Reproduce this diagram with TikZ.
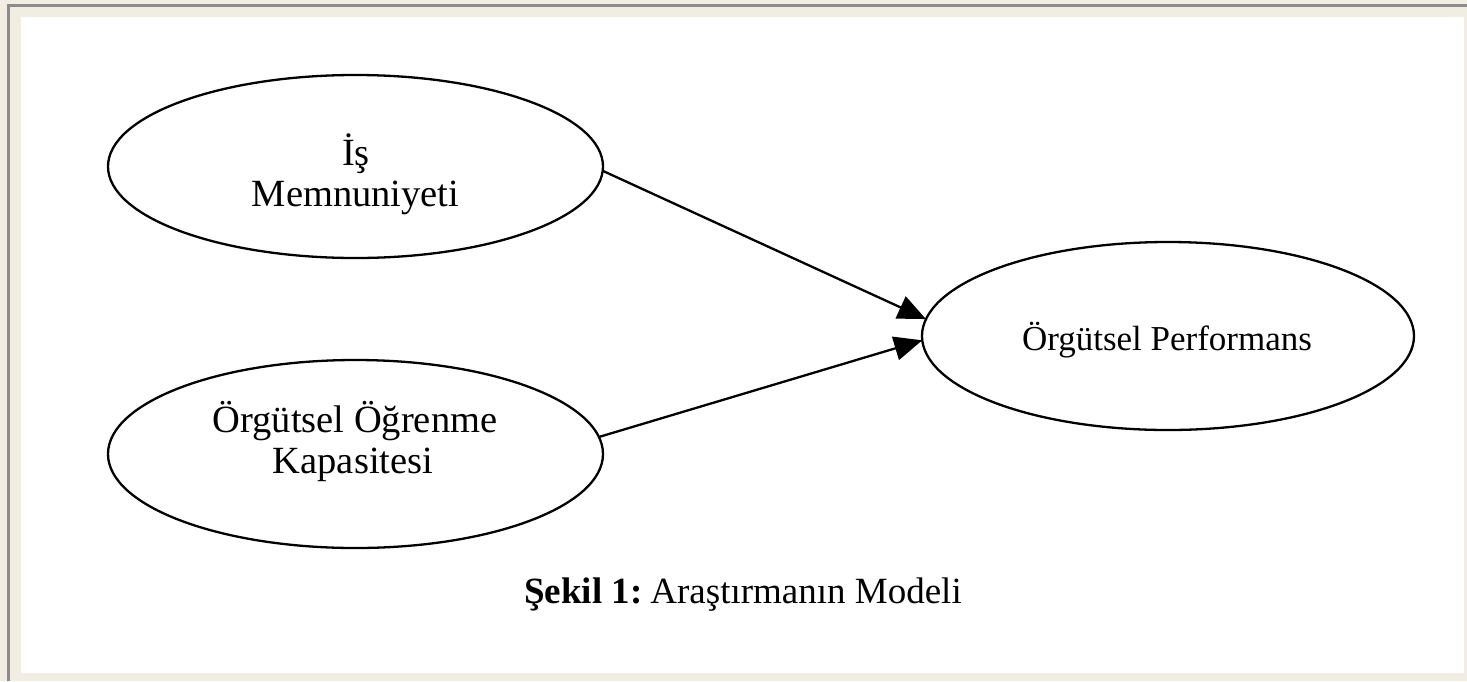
\documentclass[tikz,border=0pt]{standalone}
\usepackage{fontspec}
\setmainfont{Liberation Serif}
\usetikzlibrary{shapes.geometric,arrows.meta}
\definecolor{bgbeige}{HTML}{F1EDE3}
\definecolor{framegray}{HTML}{8A8B8D}
\begin{document}
\begin{tikzpicture}[x=1pt,y=-1pt,
  oval/.style={draw=black, line width=2.3pt, ellipse, inner sep=0pt, outer sep=0pt},
  lbl/.style={anchor=base, inner sep=0pt, font=\fontsize{38.5}{44}\selectfont},
  lblsmall/.style={anchor=base, inner sep=0pt, font=\fontsize{35}{41}\selectfont},
  captext/.style={anchor=base, inner sep=0pt, font=\fontsize{37}{42}\selectfont},
  link/.style={draw=black, line width=2.3pt, -{Triangle[length=28pt,width=24pt]}}]
\useasboundingbox (0,0) rectangle (1467,681);
\fill[bgbeige] (0,0) rectangle (1467,681);
\fill[framegray] (7,4) rectangle (1467,7);
\fill[framegray] (7,4) rectangle (10,681);
\fill[white] (21,17) rectangle (1464,673);
% ellipses
\node[oval, minimum width=495pt, minimum height=183pt] (e1) at (355.5,166.5) {};
\node[oval, minimum width=495pt, minimum height=188pt] (e2) at (355.5,454) {};
\node[oval, minimum width=492pt, minimum height=188pt] (e3) at (1168,336) {};
% labels
\node[lbl] (t1a) at (356,165) {İş};
\node[lbl] (t1b) at (355.5,206) {Memnuniyeti};
\node[lbl] (t2a) at (355,432) {Örgütsel Öğrenme};
\node[lbl] (t2b) at (353,473) {Kapasitesi};
\node[lblsmall] (t3) at (1167,350) {Örgütsel Performans};
\node[captext] (cap) at (743,603) {\textbf{Şekil 1:}\hspace{8pt}Araştırmanın Modeli};
% connectors
\draw[link] (e1.-1) -- (e3.176);
\draw[link] (e2.4) -- (e3.181);
\end{tikzpicture}
\end{document}
